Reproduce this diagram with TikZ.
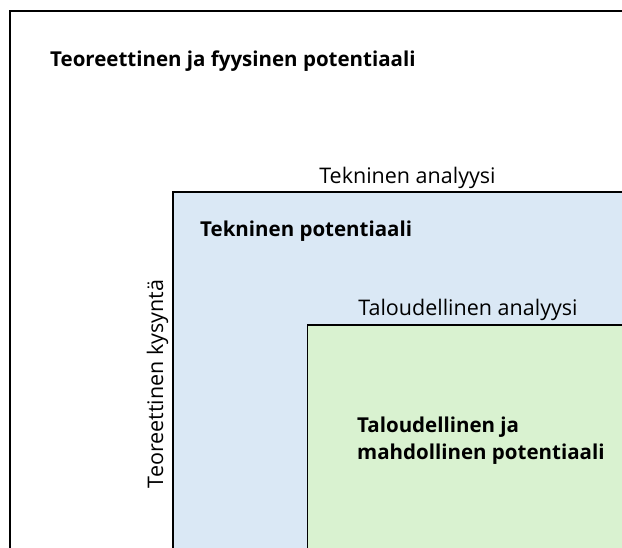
\documentclass[tikz,border=0pt]{standalone}
\usepackage{fontspec}
\setmainfont{Open Sans}
\definecolor{techblue}{HTML}{DAE8F5}
\definecolor{econgreen}{HTML}{D9F2D0}
\tikzset{
  area/.style={draw=black, line width=1.5pt},
  title/.style={font=\fontsize{20.5}{27}\selectfont\bfseries, anchor=base west, inner sep=0pt},
  label/.style={font=\fontsize{21.5}{26}\selectfont, anchor=base, inner sep=0pt}
}
\begin{document}
\begin{tikzpicture}[x=1pt, y=-1pt]
  \useasboundingbox (0,0) rectangle (622,548);
  \clip (0,0) rectangle (622,548);
  \fill[white] (0,0) rectangle (622,548);
  % nested potential areas, running off the right and bottom edges
  \draw[area, fill=white] (10,11) rectangle (640,570);
  \draw[area, fill=techblue] (173,192) rectangle (640,570);
  \draw[area, fill=econgreen] (307.5,325) rectangle (640,570);
  % area titles
  \node[title] (theory) at (50,67) {Teoreettinen ja fyysinen potentiaali};
  \node[title] (tech) at (200,237) {Tekninen potentiaali};
  \node[title] (econa) at (357,432) {Taloudellinen ja};
  \node[title] (econb) at (357,459) {mahdollinen potentiaali};
  % analysis labels on the area borders
  \node[label] (techan) at (407.5,184) {Tekninen analyysi};
  \node[label] (econan) at (468,316) {Taloudellinen analyysi};
  \node[label, rotate=90] (demand) at (163,384) {Teoreettinen kysyntä};
\end{tikzpicture}
\end{document}
